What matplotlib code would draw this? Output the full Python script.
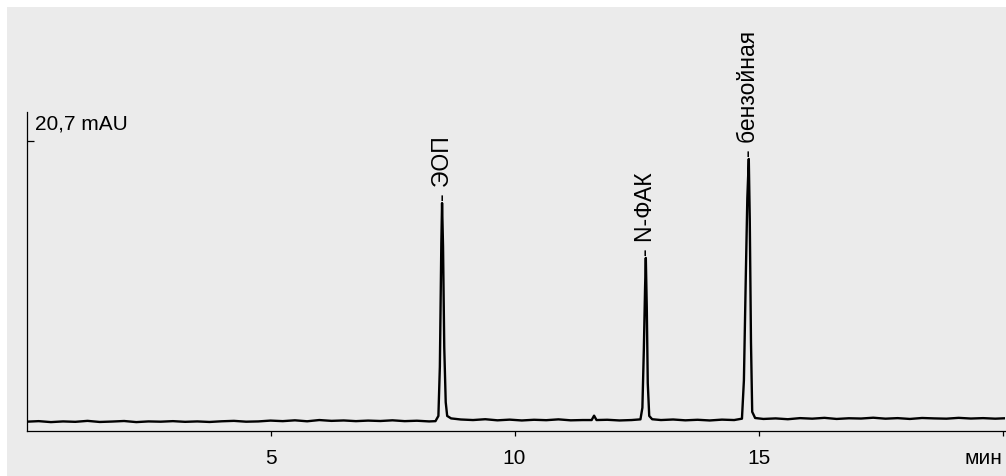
import matplotlib.pyplot as plt
from matplotlib.patches import Rectangle

plt.rcParams['font.family'] = ['Liberation Sans', 'DejaVu Sans']

# Хроматограмма: время (мин) и сигнал (mAU)
time = [0.0, 0.25, 0.5, 0.75, 1.0, 1.25, 1.5, 1.75, 2.0, 2.25, 2.5, 2.75,
        3.0, 3.25, 3.5, 3.75, 4.0, 4.25, 4.5, 4.75, 5.0, 5.25, 5.5, 5.75,
        6.0, 6.25, 6.5, 6.75, 7.0, 7.25, 7.5, 7.75, 8.0, 8.25, 8.38,
        8.44, 8.47, 8.50, 8.515, 8.535, 8.56, 8.59, 8.62, 8.70,
        8.9, 9.15, 9.4, 9.65, 9.9, 10.15, 10.4, 10.65, 10.9, 11.15, 11.4,
        11.58, 11.63, 11.68, 11.9, 12.15, 12.4, 12.58,
        12.62, 12.65, 12.675, 12.69, 12.71, 12.73, 12.76, 12.82,
        13.0, 13.25, 13.5, 13.75, 14.0, 14.25, 14.5, 14.66,
        14.70, 14.74, 14.77, 14.80, 14.82, 14.845, 14.87, 14.93,
        15.1, 15.35, 15.6, 15.85, 16.1, 16.35, 16.6, 16.85, 17.1, 17.35,
        17.6, 17.85, 18.1, 18.35, 18.6, 18.85, 19.1, 19.35, 19.6, 19.85, 20.05]
signal = [0.18, 0.22, 0.15, 0.2, 0.17, 0.24, 0.16, 0.19, 0.23, 0.15, 0.2, 0.18,
          0.22, 0.17, 0.2, 0.16, 0.21, 0.24, 0.18, 0.2, 0.26, 0.22, 0.28, 0.21,
          0.3, 0.24, 0.27, 0.22, 0.26, 0.23, 0.28, 0.22, 0.25, 0.2, 0.22,
          0.6, 4.2, 13.2, 16.15, 13.0, 5.6, 1.6, 0.6, 0.42,
          0.34, 0.3, 0.36, 0.28, 0.33, 0.27, 0.32, 0.29, 0.35, 0.28, 0.3,
          0.3, 0.62, 0.3, 0.32, 0.27, 0.3, 0.35,
          1.2, 5.5, 10.0, 12.14, 8.5, 3.0, 0.6, 0.36,
          0.3, 0.34, 0.28, 0.32, 0.27, 0.33, 0.3, 0.4,
          3.2, 11.0, 16.5, 19.37, 15.0, 6.0, 0.9, 0.45,
          0.38, 0.42, 0.36, 0.44, 0.4, 0.46, 0.38, 0.43, 0.41, 0.47,
          0.4, 0.44, 0.38, 0.45, 0.42, 0.4, 0.46, 0.41, 0.44, 0.4, 0.43]

peak_names = ['- ЭОП', '- N-ФАК', '- бензойная']
peak_times = [8.515, 12.69, 14.80]
peak_heights = [16.15, 12.14, 19.37]

x_ticks = [5, 10, 15, 20]
x_labels = ['5', '10', '15', 'мин']
y_mark = 20.7

fig = plt.figure(figsize=(10.06, 4.76), dpi=100)
fig.patches.append(Rectangle((7 / 1006, 0), 1 - 7 / 1006, 1 - 7 / 476,
                             transform=fig.transFigure, facecolor='#ebebeb',
                             edgecolor='none', zorder=-5))

ax = fig.add_axes([26.5 / 1006, 45 / 476, 978.5 / 1006, 319 / 476])
ax.set_zorder(2)
ax.patch.set_visible(False)

ax.plot(time, signal, color='black', lw=1.7, solid_joinstyle='round')

# Подписи пиков
for name, t, h in zip(peak_names, peak_times, peak_heights):
    ax.annotate(name, (t, h), textcoords='offset points', xytext=(0, 1.5),
                rotation=90, ha='center', va='bottom', fontsize=16.5)

ax.set_xlim(0, 20.05)
ax.set_ylim(-0.5, 22.8)

ax.spines['right'].set_visible(False)
ax.spines['top'].set_visible(False)
for s in ('left', 'bottom'):
    ax.spines[s].set_linewidth(0.9)

ax.set_xticks(x_ticks)
ax.set_xticklabels(x_labels, fontsize=15)
ax.get_xticklabels()[-1].set_horizontalalignment('right')
ax.tick_params(axis='x', direction='out', length=3.6, width=0.9, pad=9)

ax.set_yticks([y_mark])
ax.set_yticklabels([''])
ax.tick_params(axis='y', direction='in', length=5, width=0.9)
ax.annotate('20,7 mAU', (0, y_mark), textcoords='offset points', xytext=(6, 8),
            ha='left', va='baseline', fontsize=15)

fig.savefig('out.png', dpi=100)
